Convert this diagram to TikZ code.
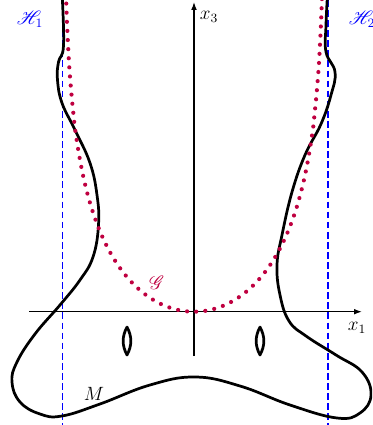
\documentclass[tikz,border=0pt]{standalone}
\usepackage{mathrsfs}
\usetikzlibrary{arrows.meta}
\begin{document}
\begin{tikzpicture}[x=0.625pt,y=-0.625pt,
  mcurve/.style={line width=1.7pt, line join=round, line cap=round},
  axis/.style={line width=0.8pt, -{Latex[length=5pt,width=3.6pt]}},
  plane/.style={blue, line width=0.8pt, dash pattern=on 4.2pt off 2.1pt},
  reaper/.style={purple, line width=2.6pt, line cap=round, dash pattern=on 0pt off 5.7pt},
  lbl/.style={inner sep=1pt, font=\large}]
\useasboundingbox (0,0) rectangle (372,425);
\clip (0,0) rectangle (372,425);
% coordinates
\coordinate (xl) at (29,311.7);
\coordinate (xr) at (362,311.7);
\coordinate (zb) at (194,356);
\coordinate (zt) at (194,2);
\coordinate (h1t) at (62.3,0);
\coordinate (h1b) at (62.3,425);
\coordinate (h2t) at (328,0);
\coordinate (h2b) at (328,425);
% dashed planes
\draw[plane] (h1t) -- (h1b);
\draw[plane] (h2t) -- (h2b);
% axes
\draw[axis] (xl) -- (xr);
\draw[axis] (zb) -- (zt);
\node[lbl, anchor=west] (x3lab) at (198,17) {$x_3$};
\node[lbl] (x1lab) at (357,328) {$x_1$};
% curve M
\draw[mcurve] plot[smooth, tension=0.7] coordinates {
 (62.3,-2) (63.5,46) (58.5,62) (57.5,80) (62,103) (75,130) (90,163)
 (97,195) (98.5,225) (93,257) (80,280) (60,305) (35,334) (17,362)
 (12,382) (20,402) (40,414) (62,416) (100,404) (150,385) (195,377)
 (240,386) (290,405) (337,418) (360,413) (371,395) (362,372) (336,355)
 (306,336) (289,321) (280,295) (277,265) (282,235) (292,192) (305,155)
 (321,124) (331,95) (335,72) (326,52) (326,25) (327.3,-2)};
\node[lbl] (Mlab) at (94,394) {$M$};
% lenses
\coordinate (l1t) at (127,327);
\coordinate (l1b) at (127,355);
\coordinate (l2t) at (260,327);
\coordinate (l2b) at (260,355);
\draw[mcurve] (l1t) to[bend left=28] (l1b) to[bend left=28] (l1t);
\draw[mcurve] (l2t) to[bend left=28] (l2b) to[bend left=28] (l2t);
% grim reaper
\draw[reaper] plot[domain=-88:88, samples=240, smooth] ({194+83.4*rad(\x)}, {311.7+95*ln(cos(\x))});
\node[lbl, purple] (Glab) at (157,283) {$\mathscr{G}$};
\node[lbl, blue] (H1lab) at (30,19) {$\mathscr{H}_1$};
\node[lbl, blue] (H2lab) at (362,19) {$\mathscr{H}_2$};
\end{tikzpicture}
\end{document}
